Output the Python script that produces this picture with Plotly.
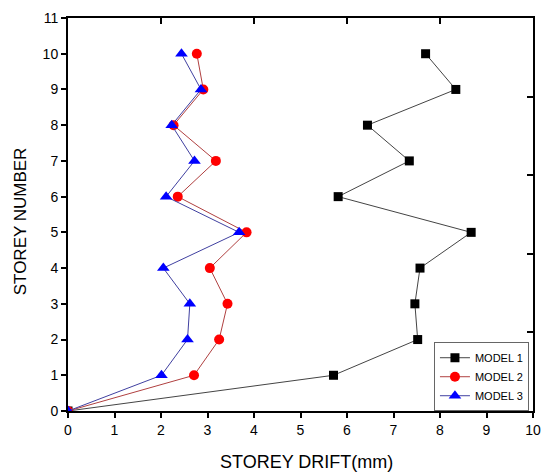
import plotly.graph_objects as go

storey = [0, 1, 2, 3, 4, 5, 6, 7, 8, 9, 10]
model1 = [0, 5.71, 7.52, 7.46, 7.57, 8.67, 5.81, 7.34, 6.44, 8.34, 7.69]
model2 = [0, 2.71, 3.25, 3.43, 3.05, 3.84, 2.36, 3.18, 2.27, 2.91, 2.77]
model3 = [0, 2.01, 2.57, 2.62, 2.05, 3.68, 2.11, 2.72, 2.23, 2.86, 2.44]
names = ["MODEL 1", "MODEL 2", "MODEL 3"]
x_ticks = list(range(0, 11))
y_ticks = list(range(0, 12))
x_title = "STOREY DRIFT(mm)"
y_title = "STOREY NUMBER"

FONT = "Liberation Sans, Arial, sans-serif"

fig = go.Figure()
series = [
    (model1, names[0], "#000000", "#444444", "square", 9),
    (model2, names[1], "#ff0000", "#b04040", "circle", 10),
    (model3, names[2], "#0000ff", "#4040a0", "triangle-up", 11),
]
for vals, name, mc, lc, sym, sz in series:
    fig.add_trace(go.Scatter(
        x=vals, y=storey, name=name, mode="lines+markers",
        line=dict(color=lc, width=1),
        marker=dict(symbol=sym, size=sz, color=mc, line=dict(width=0)),
        cliponaxis=True,
    ))

# dummy trace to activate the mirrored top/right axes
fig.add_trace(go.Scatter(x=[], y=[], xaxis="x2", yaxis="y2",
                         showlegend=False, hoverinfo="skip"))

fig.update_layout(
    width=547, height=472,
    margin=dict(l=68, r=14, t=18, b=61),
    paper_bgcolor="white", plot_bgcolor="white",
    font=dict(family=FONT, color="#000000"),
    xaxis=dict(
        range=[0, 10], tickvals=x_ticks, showgrid=False, zeroline=False,
        showline=True, linecolor="#000000", linewidth=2,
        ticks="outside", ticklen=5, tickwidth=1.5, tickcolor="#000000",
        tickfont=dict(size=14), automargin=False,
    ),
    yaxis=dict(
        range=[0, 11], tickvals=y_ticks, showgrid=False, zeroline=False,
        showline=True, linecolor="#000000", linewidth=2,
        ticks="outside", ticklen=5, tickwidth=1.5, tickcolor="#000000",
        tickfont=dict(size=14), automargin=False,
    ),
    xaxis2=dict(
        overlaying="x", side="top", range=[0, 10], tickvals=[2, 4, 6, 8],
        showticklabels=False, showgrid=False, zeroline=False,
        showline=True, linecolor="#000000", linewidth=2,
        ticks="inside", ticklen=6, tickwidth=1.5, tickcolor="#000000",
    ),
    yaxis2=dict(
        overlaying="y", side="right", range=[0, 10], tickvals=[2, 4, 6, 8],
        showticklabels=False, showgrid=False, zeroline=False,
        showline=True, linecolor="#000000", linewidth=2,
        ticks="inside", ticklen=6, tickwidth=1.5, tickcolor="#000000",
    ),
    legend=dict(
        x=0.787, y=0.175, xanchor="left", yanchor="top",
        bgcolor="white", bordercolor="#666666", borderwidth=1,
        font=dict(size=11, family=FONT), tracegroupgap=0, itemwidth=30,
    ),
    showlegend=True,
    annotations=[
        dict(text=x_title, xref="paper", yref="paper", x=0.512, y=-0.13,
             xanchor="center", yanchor="middle", showarrow=False,
             font=dict(size=18, family=FONT)),
        dict(text=y_title, xref="paper", yref="paper", x=-0.103, y=0.483,
             xanchor="center", yanchor="middle", showarrow=False,
             textangle=-90, font=dict(size=17, family=FONT)),
    ],
)

fig.write_html("out.html")
